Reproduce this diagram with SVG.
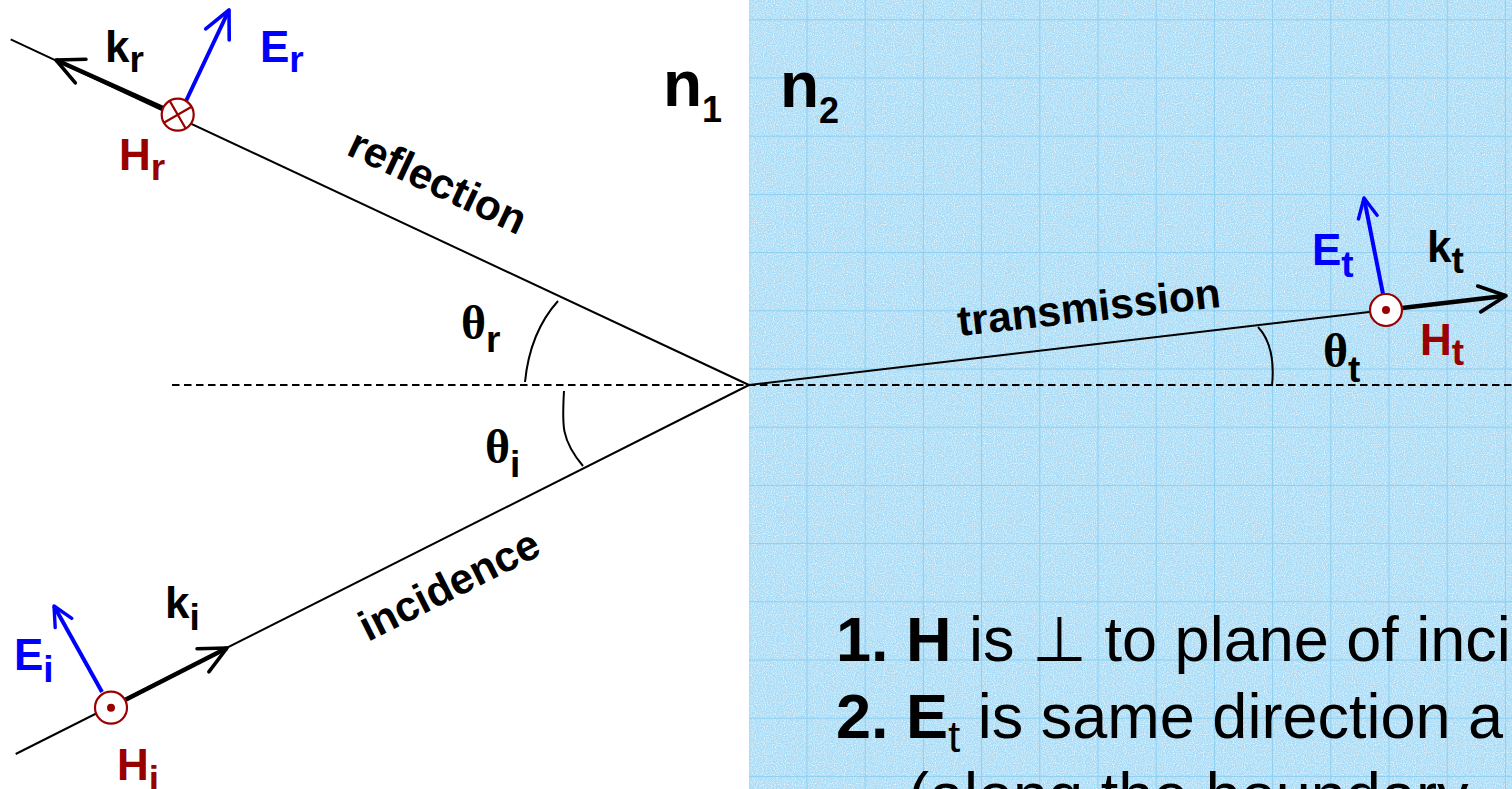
<svg xmlns="http://www.w3.org/2000/svg" width="1512" height="789" viewBox="0 0 1512 789">
<style>
.sans{font-family:"Liberation Sans",Arial,sans-serif}
.serif{font-family:"Liberation Serif","Times New Roman",serif}
.lbl{font-family:"Liberation Sans",Arial,sans-serif;font-weight:bold;font-size:44px}
.sub{font-size:37px}
.ray{fill:none;stroke:#000;stroke-width:2}
.kvec{fill:none;stroke:#000;stroke-width:4.5}
.evec{fill:none;stroke:#0000ff;stroke-width:4}
.hcirc{fill:#fff;stroke:#990000;stroke-width:2.2}
.arc{fill:none;stroke:#000;stroke-width:2}
.blk{fill:#000}
.blu{fill:#0000ff}
.red{fill:#990000}
.theta{font-family:"Liberation Serif","Times New Roman",serif;font-weight:bold;font-size:48px}
.tsub{font-family:"Liberation Sans",Arial,sans-serif;font-weight:bold;font-size:37px}
.raytxt{font-family:"Liberation Sans",Arial,sans-serif;font-weight:bold;font-size:42.5px;fill:#000}
</style>
<defs>
<pattern id="grid" patternUnits="userSpaceOnUse" x="748.3" y="19.3" width="58.2" height="58.2">
<path d="M0,0 H58.2 M0,0 V58.2" stroke="#8ccff2" stroke-width="2" fill="none"/>
</pattern>
<filter id="noise" x="0" y="0" width="100%" height="100%">
<feTurbulence type="fractalNoise" baseFrequency="0.9" numOctaves="1" seed="4" result="t"/>
<feColorMatrix in="t" type="matrix" values="0 0 0 0 1  0 0 0 0 1  0 0 0 0 1  2.2 0 0 0 -0.95"/>
<feComposite operator="in" in2="SourceGraphic"/>
</filter>
<marker id="ahK" markerUnits="userSpaceOnUse" markerWidth="40" markerHeight="40" viewBox="-34 -20 40 40" refX="0" refY="0" orient="auto">
<path d="M-27,-13 L0,0 L-27,13" fill="none" stroke="#000" stroke-width="3.6" stroke-linejoin="round" stroke-linecap="round"/>
</marker>
<marker id="ahEb" markerUnits="userSpaceOnUse" markerWidth="40" markerHeight="40" viewBox="-34 -20 40 40" refX="0" refY="0" orient="auto">
<path d="M-27,-13 L0,0 L-27,13" fill="none" stroke="#0000ff" stroke-width="3.6" stroke-linejoin="round" stroke-linecap="round"/>
</marker>
<marker id="ahEs" markerUnits="userSpaceOnUse" markerWidth="40" markerHeight="40" viewBox="-34 -20 40 40" refX="0" refY="0" orient="auto">
<path d="M-19.5,-9.5 L0,0 L-19.5,9.5" fill="none" stroke="#0000ff" stroke-width="3.4" stroke-linejoin="round" stroke-linecap="round"/>
</marker>
</defs>

<g id="background">
<rect x="0" y="0" width="1512" height="789" fill="#ffffff"/>
<rect x="749" y="0" width="763" height="789" fill="#abdcf6"/>
<rect x="749" y="0" width="763" height="789" fill="#fff" filter="url(#noise)" opacity="0.9"/>
<rect x="749" y="0" width="763" height="789" fill="url(#grid)"/>
</g>

<g id="media-labels">
<text class="sans" x="663" y="106" font-weight="bold" font-size="64">n<tspan dy="16" font-size="36">1</tspan></text>
<text class="sans" x="780" y="107" font-weight="bold" font-size="64">n<tspan dy="16" font-size="36">2</tspan></text>
</g>

<g id="connectors">
<line id="normal" x1="172" y1="385" x2="1512" y2="385" stroke="#000" stroke-width="2" stroke-dasharray="7.5,4.5"/>
<line id="ray-reflection" class="ray" x1="10.7" y1="39.3" x2="749" y2="385"/>
<line id="ray-incidence" class="ray" x1="15.7" y1="754" x2="749" y2="385"/>
<line id="ray-transmission" class="ray" x1="749" y1="385" x2="1386" y2="310"/>
<path id="arc-r" class="arc" d="M558,301 Q530,332 525,382"/>
<path id="arc-i" class="arc" d="M564,391 C562,425 561,440 583,466"/>
<path id="arc-t" class="arc" d="M1258,327 Q1276,346 1272,386"/>
<line id="k-r" class="kvec" x1="163" y1="108" x2="56" y2="60" marker-end="url(#ahK)"/>
<line id="k-i" class="kvec" x1="125" y1="700" x2="227" y2="648" marker-end="url(#ahK)"/>
<line id="k-t" class="kvec" x1="1402" y1="308" x2="1506" y2="295.8" marker-end="url(#ahK)"/>
<line id="E-r" class="evec" x1="186" y1="101" x2="229" y2="10" marker-end="url(#ahEb)"/>
<line id="E-i" class="evec" x1="102" y1="692" x2="54" y2="606" marker-end="url(#ahEs)"/>
<line id="E-t" class="evec" x1="1383" y1="294" x2="1364" y2="198" marker-end="url(#ahEs)"/>
</g>

<g id="node-Hr">
<circle class="hcirc" cx="177.7" cy="114.7" r="16"/>
<g transform="translate(177.7,114.7) rotate(-30)">
<line x1="-16" y1="0" x2="16" y2="0" stroke="#990000" stroke-width="2.2"/>
<line x1="0" y1="-16" x2="0" y2="16" stroke="#990000" stroke-width="2.2"/>
</g>
</g>
<g id="node-Hi">
<circle class="hcirc" cx="111" cy="707.7" r="16"/>
<circle cx="111" cy="707.7" r="4" fill="#990000"/>
</g>
<g id="node-Ht">
<circle class="hcirc" cx="1386" cy="310" r="16"/>
<circle cx="1386" cy="310" r="4" fill="#990000"/>
</g>

<g id="ray-labels">
<text class="raytxt" transform="translate(345,154) rotate(25.1)">reflection</text>
<text class="raytxt" transform="translate(368,642) rotate(-26.7)">incidence</text>
<text class="raytxt" transform="translate(959,336) rotate(-6.3)">transmission</text>
</g>

<g id="vector-labels">
<text class="lbl blk" x="105" y="62">k<tspan class="sub" dy="10">r</tspan></text>
<text class="lbl blu" x="260" y="62">E<tspan class="sub" dy="10">r</tspan></text>
<text class="lbl red" x="119" y="170">H<tspan class="sub" dy="10">r</tspan></text>
<text class="lbl blu" x="14" y="670">E<tspan class="sub" dy="12">i</tspan></text>
<text class="lbl blk" x="165" y="618">k<tspan class="sub" dy="12">i</tspan></text>
<text class="lbl red" x="117" y="780">H<tspan class="sub" dy="12">i</tspan></text>
<text class="lbl blu" x="1312" y="265">E<tspan class="sub" dy="12">t</tspan></text>
<text class="lbl blk" x="1427" y="262">k<tspan class="sub" dy="11">t</tspan></text>
<text class="lbl red" x="1420" y="355">H<tspan class="sub" dy="10">t</tspan></text>
</g>

<g id="angle-labels">
<text x="461" y="339"><tspan class="theta">θ</tspan><tspan class="tsub" dy="13">r</tspan></text>
<text x="485" y="463"><tspan class="theta">θ</tspan><tspan class="tsub" dy="14">i</tspan></text>
<text x="1323" y="367"><tspan class="theta">θ</tspan><tspan class="tsub" dy="15">t</tspan></text>
</g>

<g id="notes" class="sans" font-size="63" fill="#000">
<text x="836" y="661"><tspan font-weight="bold">1. H</tspan> is ⊥ to plane of inci</text>
<text x="836" y="738"><tspan font-weight="bold">2. E</tspan><tspan font-size="44" dy="14">t</tspan><tspan dy="-14"> is same direction a</tspan></text>
<text x="908" y="817">(along the boundary</text>
</g>
</svg>
